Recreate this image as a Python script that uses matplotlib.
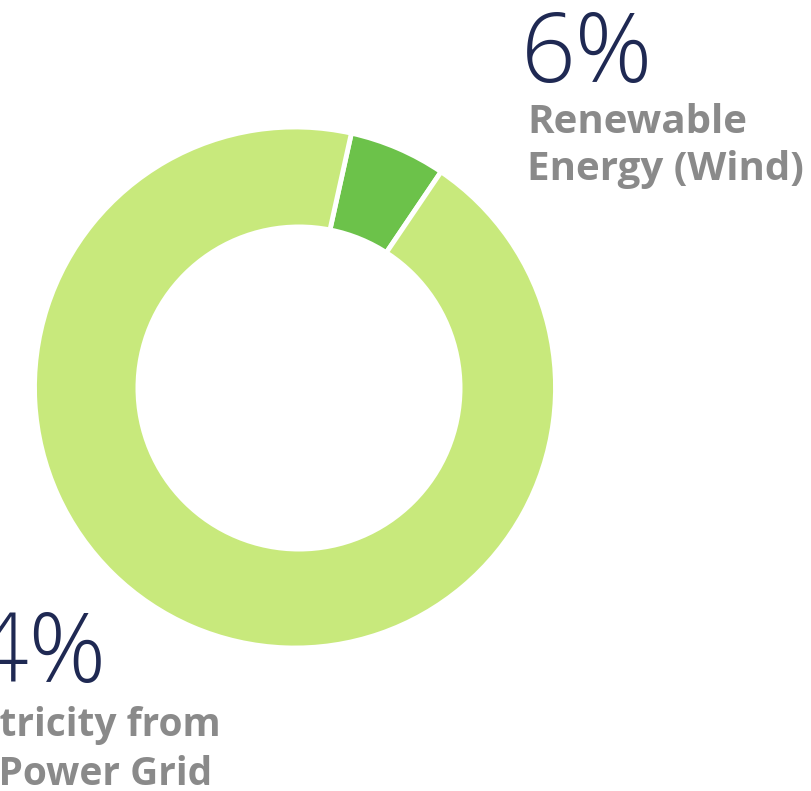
import matplotlib.pyplot as plt
from matplotlib.patches import Circle

# ====== Data ======
labels = ['Renewable\nEnergy (Wind)', 'Electricity from\nthe Power Grid']
shares = [6, 94]
pct_text = ['6%', '94%']
colors = ['#6cc24a', '#c8e97c']
# ==================

W, H = 811, 791
fig = plt.figure(figsize=(W / 100, H / 100), dpi=100)
ax = fig.add_axes([0, 0, 1, 1])

cx, cy, r = 295, H - 387.5, 260.5
ax.pie(shares, colors=colors, startangle=77.5, counterclock=False,
       center=(cx, cy), radius=r, frame=True,
       wedgeprops=dict(edgecolor='white', linewidth=3.5))
# hole of the donut (slightly off-centre in the original)
ax.add_patch(Circle((299, H - 388), 163.5, facecolor='white', edgecolor='none', zorder=5))
ax.set_xlim(0, W)
ax.set_ylim(0, H)
ax.set_aspect('equal')
ax.axis('off')

navy = '#1f2953'
grey = '#8a8a8a'

# wind label (top right)
ax.text(521, H - 82, pct_text[0], fontsize=69, color=navy,
        family='Open Sans', fontweight='light', va='baseline', ha='left')
ax.text(527, H - 180, labels[0], fontsize=29, color=grey,
        family='Open Sans', fontweight='bold', va='baseline', ha='left',
        linespacing=1.28)

# grid label (bottom left, cut off by the edge)
ax.text(-80, H - 682, pct_text[1], fontsize=69, color=navy,
        family='Open Sans', fontweight='light', va='baseline', ha='left')
ax.text(-77, H - 785, labels[1], fontsize=28, color=grey,
        family='Open Sans', fontweight='bold', va='baseline', ha='left',
        linespacing=1.33)

fig.savefig('out.png', dpi=100)
